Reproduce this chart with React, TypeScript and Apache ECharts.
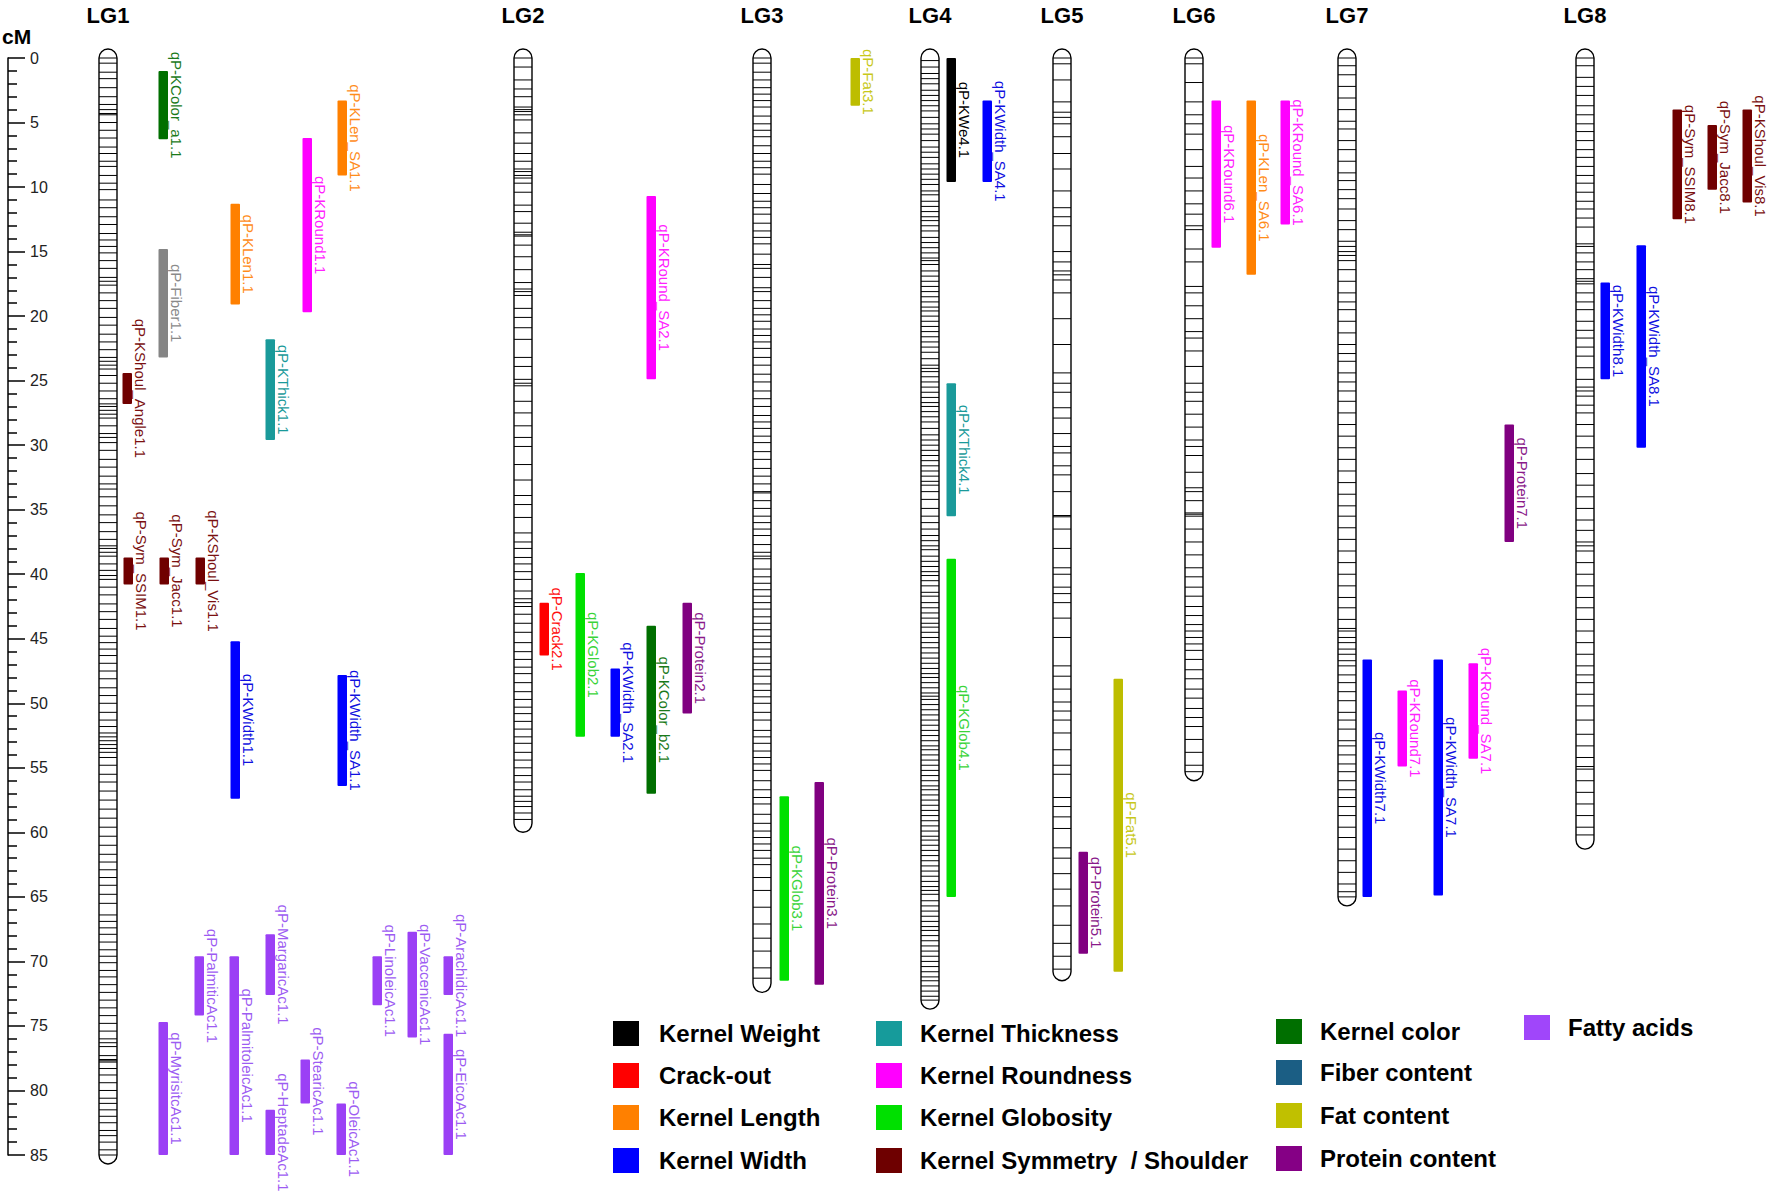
import React, { useEffect, useRef } from "react";
import * as echarts from "echarts";

// ---------------- DATA ----------------
const lgNames = ["LG1", "LG2", "LG3", "LG4", "LG5", "LG6", "LG7", "LG8"];
const lgLengths = [85.0, 59.3, 71.7, 73.0, 70.8, 55.3, 65.0, 60.6];

const markersLG1 = [0, 0.4, 1.1, 1.6, 2.3, 3.0, 3.6, 4.0, 4.3, 4.4, 5.0, 5.6, 6.2, 6.9, 7.4, 8.0, 8.4, 9.1, 9.7, 10.2, 11.0, 11.6, 12.3, 12.9, 13.6, 14.1, 14.6, 15.1, 15.7, 16.3, 17.0, 17.3, 17.6, 18.2, 18.8, 19.4, 20.1, 20.7, 21.4, 22.0, 22.6, 23.2, 23.5, 23.8, 24.1, 24.6, 25.2, 25.8, 26.4, 26.8, 27.0, 27.3, 27.6, 27.9, 28.5, 29.1, 29.4, 29.8, 30.4, 31.1, 31.7, 32.4, 33.0, 33.4, 34.0, 34.7, 35.4, 36.0, 36.7, 37.3, 37.8, 38.0, 38.3, 38.6, 39.2, 39.7, 40.1, 40.4, 41.0, 41.6, 42.3, 42.9, 43.5, 44.2, 44.8, 45.3, 45.8, 46.3, 46.9, 47.5, 48.1, 48.8, 49.4, 50.0, 50.7, 51.3, 51.8, 52.3, 52.6, 52.9, 53.2, 53.5, 53.8, 54.2, 54.8, 55.5, 56.1, 56.8, 57.5, 58.2, 58.9, 59.6, 60.3, 61.0, 61.7, 62.3, 62.9, 63.5, 64.1, 64.8, 65.5, 66.4, 66.9, 67.4, 67.9, 68.5, 69.1, 69.6, 70.1, 70.7, 71.2, 71.8, 72.4, 73.0, 73.6, 74.2, 74.8, 75.4, 76.0, 76.3, 76.6, 77.3, 77.6, 77.7, 77.8, 78.3, 78.8, 79.4, 80.0, 80.6, 81.0, 81.5, 82.0, 82.5, 83.1, 83.5, 84.0, 84.6, 85.0];
const markersLG2 = [0, 0.7, 1.7, 2.4, 3.0, 3.8, 4.0, 4.15, 4.4, 4.8, 5.8, 6.6, 7.4, 8.0, 8.6, 8.8, 9.1, 9.3, 9.7, 10.4, 11.4, 11.9, 12.8, 13.5, 13.7, 13.8, 14.5, 15.4, 16.4, 17.4, 17.9, 18.1, 18.4, 19.4, 20.1, 20.9, 21.8, 23.2, 23.9, 24.9, 25.2, 25.4, 26.6, 27.5, 28.5, 29.4, 30.1, 31.5, 32.7, 33.9, 34.6, 35.6, 36.8, 37.5, 38.0, 38.7, 39.2, 39.8, 40.4, 41.3, 41.9, 42.2, 42.5, 43.1, 43.8, 44.5, 45.3, 46.0, 46.6, 47.2, 47.7, 48.4, 49.1, 49.7, 50.3, 50.8, 51.4, 52.0, 52.6, 53.1, 53.8, 54.4, 55.0, 55.6, 56.1, 56.7, 57.2, 57.6, 58.0, 58.5, 59.0];
const markersLG3 = [0, 0.4, 1.1, 1.7, 2.3, 2.8, 3.3, 3.8, 4.5, 5.1, 5.6, 6.1, 6.8, 7.4, 8.0, 8.5, 9.0, 9.8, 10.5, 11.1, 11.6, 12.1, 12.8, 13.4, 13.9, 14.4, 15.2, 16.0, 16.3, 17.0, 17.8, 18.1, 18.8, 19.4, 19.9, 20.4, 21.0, 21.5, 22.0, 22.5, 23.2, 23.8, 24.5, 25.1, 25.8, 26.4, 27.0, 27.7, 28.2, 28.7, 29.3, 29.8, 30.5, 31.1, 31.8, 32.4, 33.0, 33.6, 33.7, 34.3, 34.9, 35.5, 36.0, 36.5, 37.0, 37.7, 38.3, 38.6, 38.8, 39.6, 40.2, 40.7, 41.2, 41.7, 42.2, 42.7, 43.3, 43.8, 44.3, 44.8, 45.3, 45.8, 46.4, 46.9, 47.4, 47.9, 48.5, 49.0, 49.5, 50.0, 50.7, 51.3, 52.1, 52.6, 53.1, 53.7, 54.2, 54.7, 55.2, 56.0, 56.7, 57.3, 57.8, 58.6, 59.3, 59.9, 60.4, 60.9, 61.4, 62.0, 62.5, 63.5, 64.5, 65.8, 67.1, 68.2, 69.2, 70.5, 71.3];
const markersLG4 = [0.2, 0.7, 1.2, 1.6, 2.0, 2.5, 2.9, 3.3, 3.7, 4.1, 4.6, 5.1, 5.5, 5.9, 6.4, 6.9, 7.3, 7.7, 8.2, 8.6, 9.0, 9.4, 9.8, 10.3, 10.6, 11.1, 11.5, 11.9, 12.3, 12.6, 13.0, 13.4, 13.9, 14.3, 14.7, 15.1, 15.5, 15.7, 16.0, 16.5, 16.9, 17.3, 17.7, 18.1, 18.5, 18.9, 19.3, 19.6, 20.0, 20.4, 20.8, 21.2, 21.6, 22.0, 22.4, 22.8, 23.3, 23.8, 24.05, 24.3, 24.7, 25.1, 25.5, 25.9, 26.3, 26.7, 27.0, 27.4, 27.8, 28.2, 28.7, 29.2, 29.6, 30.0, 30.4, 30.8, 31.2, 31.6, 32.0, 32.4, 32.8, 33.1, 33.6, 34.2, 34.9, 35.5, 36.0, 36.5, 37.0, 37.4, 37.8, 38.1, 38.6, 39.0, 39.4, 39.8, 40.1, 40.5, 40.9, 41.4, 41.7, 42.2, 42.6, 43.0, 43.4, 43.8, 44.1, 44.5, 44.9, 45.3, 45.7, 46.1, 46.5, 46.9, 47.3, 47.7, 48.0, 48.4, 48.8, 49.2, 49.45, 49.7, 50.1, 50.5, 50.9, 51.3, 51.7, 52.1, 52.5, 52.9, 53.3, 53.6, 54.0, 54.4, 54.8, 55.2, 55.6, 56.0, 56.4, 56.7, 57.1, 57.5, 57.9, 58.3, 58.7, 59.1, 59.5, 59.9, 60.3, 60.6, 61.0, 61.4, 61.8, 62.2, 62.6, 63.0, 63.4, 63.8, 64.2, 64.5, 64.8, 65.3, 65.7, 66.1, 66.5, 66.9, 67.3, 67.6, 68.0, 68.4, 68.8, 69.2, 69.6, 70.0, 70.4, 70.8, 71.2, 71.5, 71.9, 72.3, 72.7, 73.0];
const markersLG5 = [0, 0.45, 1.7, 3.4, 4.2, 4.6, 5.1, 6.1, 7.4, 8.6, 10.3, 11.6, 12.3, 13.0, 15.0, 15.8, 16.5, 16.8, 17.2, 18.2, 20.2, 22.2, 24.4, 25.2, 25.9, 27.1, 27.9, 29.1, 30.1, 30.6, 31.6, 32.3, 33.6, 35.45, 35.55, 36.5, 38.0, 39.5, 40.0, 41.0, 41.5, 42.2, 43.4, 44.9, 47.1, 47.9, 48.9, 49.9, 50.6, 51.3, 52.3, 53.6, 54.8, 55.5, 57.3, 58.0, 58.8, 59.7, 61.2, 62.0, 63.2, 64.4, 65.7, 67.2, 68.6, 69.6, 70.6];
const markersLG6 = [0, 0.45, 1.9, 3.4, 4.4, 5.1, 5.9, 7.1, 8.4, 9.3, 10.3, 11.3, 12.1, 13.0, 13.3, 14.8, 15.8, 17.7, 18.2, 19.2, 20.2, 21.2, 21.7, 22.7, 23.9, 25.2, 25.9, 26.6, 27.6, 28.6, 29.6, 30.1, 30.8, 32.1, 33.3, 33.6, 34.3, 35.25, 35.35, 35.5, 36.5, 37.5, 38.5, 39.5, 40.2, 41.0, 41.7, 42.5, 43.2, 43.9, 44.4, 44.9, 45.4, 45.9, 46.6, 47.4, 48.1, 48.9, 49.6, 50.4, 51.1, 51.8, 52.8, 53.8, 54.8, 55.3];
const markersLG7 = [0, 0.6, 1.3, 2.2, 3.1, 4.0, 4.9, 5.5, 6.4, 7.1, 8.0, 8.9, 9.5, 10.2, 10.9, 11.7, 12.6, 13.3, 14.2, 14.6, 15.0, 15.3, 15.7, 16.4, 17.3, 18.2, 18.9, 19.5, 20.4, 21.3, 22.2, 22.9, 23.5, 24.4, 25.1, 25.8, 26.6, 27.5, 28.4, 29.3, 30.2, 31.1, 32.0, 32.9, 33.8, 34.7, 35.5, 36.4, 37.3, 38.2, 39.1, 40.0, 40.9, 41.8, 42.6, 43.5, 44.2, 44.4, 44.9, 45.3, 45.8, 46.2, 46.7, 47.1, 47.8, 48.4, 49.1, 49.8, 50.7, 51.3, 52.0, 52.9, 53.3, 54.0, 54.7, 55.3, 56.0, 56.7, 57.3, 58.0, 58.7, 59.6, 60.4, 61.3, 62.2, 63.1, 64.0, 64.6, 65.0];
const markersLG8 = [0, 0.6, 1.5, 2.2, 2.9, 3.7, 4.4, 5.1, 5.7, 6.4, 7.1, 7.7, 8.4, 9.1, 9.7, 10.4, 11.1, 11.7, 12.4, 13.1, 14.4, 14.6, 15.1, 15.8, 16.4, 17.1, 17.3, 17.5, 18.2, 18.9, 19.5, 20.4, 21.1, 21.7, 22.4, 23.1, 24.0, 24.9, 25.5, 25.8, 26.2, 26.9, 27.5, 28.4, 29.3, 30.2, 31.1, 32.2, 33.1, 34.0, 34.9, 35.8, 36.6, 37.5, 37.8, 38.2, 39.1, 40.0, 40.9, 41.8, 42.6, 43.5, 44.4, 45.3, 46.2, 47.1, 47.8, 48.4, 49.3, 50.2, 51.3, 52.4, 53.3, 54.2, 54.9, 55.1, 56.0, 56.9, 57.8, 58.7, 59.6, 60.2];
const lgMarkers = [markersLG1, markersLG2, markersLG3, markersLG4, markersLG5, markersLG6, markersLG7, markersLG8];

const qtlNames = [
  "qP-KColor_a1.1", "qP-Fiber1.1", "qP-KShoul_Angle1.1", "qP-Sym_SSIM1.1", "qP-Sym_Jacc1.1", "qP-KShoul_Vis1.1",
  "qP-KLen1.1", "qP-KWidth1.1", "qP-KThick1.1", "qP-KRound1.1", "qP-KLen_SA1.1", "qP-KWidth_SA1.1",
  "qP-MyrisitcAc1.1", "qP-PalmiticAc1.1", "qP-PalmitoleicAc1.1", "qP-MargaricAc1.1", "qP-HeptadeAc1.1",
  "qP-StearicAc1.1", "qP-OleicAc1.1", "qP-LinoleicAc1.1", "qP-VaccenicAc1.1", "qP-ArachidicAc1.1", "qP-EicoAc1.1",
  "qP-Crack2.1", "qP-KGlob2.1", "qP-KWidth_SA2.1", "qP-KRound_SA2.1", "qP-KColor_b2.1", "qP-Protein2.1",
  "qP-KGlob3.1", "qP-Protein3.1", "qP-Fat3.1",
  "qP-KWe4.1", "qP-KThick4.1", "qP-KGlob4.1", "qP-KWidth_SA4.1",
  "qP-Protein5.1", "qP-Fat5.1",
  "qP-KRound6.1", "qP-KLen_SA6.1", "qP-KRound_SA6.1",
  "qP-KWidth7.1", "qP-KRound7.1", "qP-KWidth_SA7.1", "qP-KRound_SA7.1", "qP-Protein7.1",
  "qP-KWidth8.1", "qP-KWidth_SA8.1", "qP-Sym_SSIM8.1", "qP-Sym_Jacc8.1", "qP-KShoul_Vis8.1",
];
const qtlStart = [
  1.0, 14.8, 24.4, 38.7, 38.7, 38.7,
  11.3, 45.2, 21.8, 6.2, 3.3, 47.8,
  74.7, 69.6, 69.6, 67.9, 81.5,
  77.6, 81.0, 69.6, 67.7, 69.6, 75.6,
  42.2, 39.9, 47.3, 10.7, 44.0, 42.2,
  57.2, 56.1, 0.0,
  0.0, 25.2, 38.8, 3.3,
  61.5, 48.1,
  3.3, 3.3, 3.3,
  46.6, 49.0, 46.6, 46.9, 28.4,
  17.4, 14.5, 4.0, 5.2, 4.0,
];
const qtlEnd = [
  6.3, 23.2, 26.8, 40.8, 40.8, 40.8,
  19.1, 57.4, 29.6, 19.7, 9.1, 56.4,
  85.0, 74.2, 85.0, 72.6, 85.0,
  81.0, 85.0, 73.4, 75.9, 72.6, 85.0,
  46.3, 52.6, 52.6, 24.9, 57.0, 50.8,
  71.5, 71.8, 3.7,
  9.6, 35.5, 65.0, 9.6,
  69.4, 70.8,
  14.7, 16.8, 12.9,
  65.0, 54.9, 64.9, 54.3, 37.5,
  24.9, 30.2, 12.5, 10.2, 11.2,
];
const qtlTrait = [
  "color", "fiber", "sym", "sym", "sym", "sym",
  "len", "width", "thick", "round", "len", "width",
  "fatty", "fatty", "fatty", "fatty", "fatty",
  "fatty", "fatty", "fatty", "fatty", "fatty", "fatty",
  "crack", "glob", "width", "round", "color", "protein",
  "glob", "protein", "fat",
  "weight", "thick", "glob", "width",
  "protein", "fat",
  "round", "len", "round",
  "width", "round", "width", "round", "protein",
  "width", "width", "sym", "sym", "sym",
];

const legendLabels = [
  "Kernel Weight", "Crack-out", "Kernel Length", "Kernel Width",
  "Kernel Thickness", "Kernel Roundness", "Kernel Globosity", "Kernel Symmetry  / Shoulder",
  "Kernel color", "Fiber content", "Fat content", "Protein content",
  "Fatty acids",
];
const legendColors = [
  "#000000", "#ff0000", "#ff8000", "#0000ff",
  "#169b9b", "#ff00ff", "#00e000", "#6e0000",
  "#006f00", "#1b5e84", "#c0c000", "#850085",
  "#a046fa",
];

// ---------------- LAYOUT / STYLE ----------------
const W = 1772;
const H = 1194;
const lgCenterX = [108, 523, 762, 930, 1062, 1194, 1347, 1585];
const qtlX = [
  163, 163, 127, 128, 164, 200,
  235, 235, 270, 307, 342, 342,
  163, 199, 234, 270, 270,
  305, 341, 377, 412, 448, 448,
  544, 580, 615, 651, 651, 687,
  784, 819, 855,
  951, 951, 951, 987,
  1083, 1118,
  1216, 1251, 1285,
  1367, 1402, 1438, 1473, 1509,
  1605, 1641, 1677, 1712, 1747,
];
const traitColor: Record<string, string> = {
  weight: "#000000", crack: "#ff0000", len: "#ff8000", width: "#0000ff",
  thick: "#1a9a9a", round: "#ff00ff", glob: "#00e000", sym: "#700000",
  color: "#006f00", fiber: "#858585", fat: "#bdbd00", protein: "#800080",
  fatty: "#9b40f5",
};
const traitTextColor: Record<string, string> = {
  weight: "#000000", crack: "#ff1010", len: "#ff8c1a", width: "#1010e0",
  thick: "#1a9a9a", round: "#ff22ff", glob: "#3ad43a", sym: "#7a1010",
  color: "#1a7a1a", fiber: "#8a8a8a", fat: "#c8c81a", protein: "#8a1a8a",
  fatty: "#9d5cf2",
};
const legendColX = [613, 876, 1276, 1524];
const legendRowsA = [1021, 1063, 1105, 1148];
const legendRowsB = [1019, 1060, 1103, 1146];
const FONT = '"Liberation Sans", Arial, Helvetica, sans-serif';

function textEl(text: string, x: number, y: number, font: string, fill: string, align = "left", vAlign = "middle", extra: any = {}) {
  return {
    type: "text",
    x,
    y,
    ...extra,
    style: { text, x: 0, y: 0, font, fill, align, verticalAlign: vAlign, textAlign: align, textVerticalAlign: vAlign },
  };
}

export default function App() {
  const ref = useRef<HTMLDivElement>(null);

  useEffect(() => {
    if (!ref.current) return;
    const chart = echarts.init(ref.current, undefined, { renderer: "svg" });

    const chromData = lgLengths.map((len, i) => [lgCenterX[i], len, i]);
    const markerData: number[][] = [];
    lgMarkers.forEach((arr, i) => arr.forEach((p) => markerData.push([lgCenterX[i], p, i])));
    const qtlData = qtlNames.map((_, i) => [qtlX[i], qtlStart[i], qtlEnd[i], i]);

    const graphics: any[] = [];
    graphics.push(textEl("cM", 2, 36, `bold 21px ${FONT}`, "#000"));
    lgNames.forEach((n, i) => graphics.push(textEl(n, lgCenterX[i], 15, `bold 22px ${FONT}`, "#000", "center")));
    legendLabels.forEach((lab, i) => {
      const col = Math.floor(i / 4);
      const row = i % 4;
      const top = col < 2 ? legendRowsA[row] : col === 2 ? legendRowsB[row] : 1015;
      const x = legendColX[col];
      graphics.push({ type: "rect", shape: { x, y: top, width: 26, height: 25 }, style: { fill: legendColors[i] } });
      graphics.push(textEl(lab, x + (col === 0 ? 46 : 44), top + 12.5, `bold 24px ${FONT}`, "#000"));
    });

    chart.setOption({
      animation: false,
      backgroundColor: "#ffffff",
      grid: { left: 8, right: 0, top: 58, bottom: 39, containLabel: false },
      xAxis: { type: "value", min: 8, max: W, show: false },
      yAxis: {
        type: "value",
        inverse: true,
        min: 0,
        max: 85,
        interval: 5,
        axisLine: { show: true, lineStyle: { color: "#000", width: 1.5 } },
        axisTick: { show: true, inside: true, length: 17, lineStyle: { color: "#000", width: 1.5 } },
        minorTick: { show: true, splitNumber: 5, length: 9, lineStyle: { color: "#000", width: 1.5 } },
        axisLabel: { inside: true, margin: 22, color: "#222", fontSize: 16, fontFamily: FONT, showMinLabel: true, showMaxLabel: true },
        splitLine: { show: false },
        minorSplitLine: { show: false },
      },
      graphic: graphics,
      series: [
        {
          type: "custom",
          name: "chromosomes",
          clip: false,
          z: 2,
          data: chromData,
          encode: { x: 0, y: 1 },
          renderItem: (params: any, api: any) => {
            const cx = api.value(0);
            const len = api.value(1);
            const p0 = api.coord([cx, 0]);
            const p1 = api.coord([cx, len]);
            return {
              type: "rect",
              shape: { x: p0[0] - 9, y: p0[1] - 9, width: 18, height: p1[1] - p0[1] + 18, r: 9 },
              style: { fill: "#ffffff", stroke: "#000000", lineWidth: 1.4 },
            };
          },
        },
        {
          type: "custom",
          name: "markers",
          clip: false,
          z: 3,
          data: markerData,
          encode: { x: 0, y: 1 },
          renderItem: (params: any, api: any) => {
            const p = api.coord([api.value(0), api.value(1)]);
            return {
              type: "line",
              shape: { x1: p[0] - 9, y1: p[1], x2: p[0] + 9, y2: p[1] },
              style: { stroke: "#000000", lineWidth: 1 },
            };
          },
        },
        {
          type: "custom",
          name: "QTL",
          clip: false,
          z: 4,
          data: qtlData,
          encode: { x: 0, y: [1, 2] },
          renderItem: (params: any, api: any) => {
            const x = api.value(0);
            const idx = api.value(3);
            const p0 = api.coord([x, api.value(1)]);
            const p1 = api.coord([x, api.value(2)]);
            const trait = qtlTrait[idx];
            const mid = (p0[1] + p1[1]) / 2;
            return {
              type: "group",
              children: [
                {
                  type: "rect",
                  shape: { x: p0[0] - 4.5, y: p0[1], width: 9.5, height: p1[1] - p0[1], r: 1 },
                  style: { fill: traitColor[trait] },
                },
                textEl(qtlNames[idx], p0[0] + 5.5, mid, `15px ${FONT}`, traitTextColor[trait], "center", "bottom", { rotation: -Math.PI / 2 }),
              ],
            };
          },
        },
      ],
    });

    return () => chart.dispose();
  }, []);

  return <div ref={ref} style={{ position: "fixed", left: 0, top: 0, width: W, height: H, background: "#fff" }} />;
}
